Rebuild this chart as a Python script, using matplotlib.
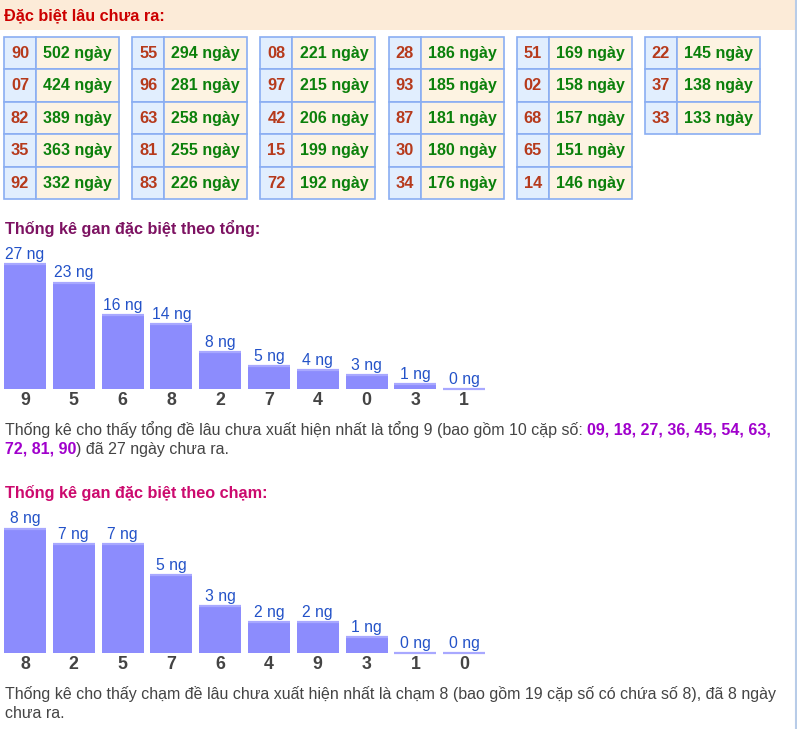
import matplotlib
matplotlib.use("Agg")
import matplotlib.pyplot as plt
from matplotlib.patches import Rectangle

plt.rcParams['font.family'] = ['Liberation Sans', 'DejaVu Sans']

# data: "Đặc biệt lâu chưa ra" tables (5 rows per table)
pairs = ["90", "07", "82", "35", "92",
         "55", "96", "63", "81", "83",
         "08", "97", "42", "15", "72",
         "28", "93", "87", "30", "34",
         "51", "02", "68", "65", "14",
         "22", "37", "33"]
days = [502, 424, 389, 363, 332,
        294, 281, 258, 255, 226,
        221, 215, 206, 199, 192,
        186, 185, 181, 180, 176,
        169, 158, 157, 151, 146,
        145, 138, 133]

# bar chart "theo tổng"
tong_labels = ["9", "5", "6", "8", "2", "7", "4", "0", "3", "1"]
tong_vals = [27, 23, 16, 14, 8, 5, 4, 3, 1, 0]

# bar chart "theo chạm"
cham_labels = ["8", "2", "5", "7", "6", "4", "9", "3", "1", "0"]
cham_vals = [8, 7, 7, 5, 3, 2, 2, 1, 0, 0]

W, H = 797, 729
fig = plt.figure(figsize=(W / 100, H / 100), dpi=100)
bg = fig.add_axes([0, 0, 1, 1])
bg.set_xlim(0, W)
bg.set_ylim(H, 0)
bg.axis('off')

# header band + right border
bg.add_patch(Rectangle((0, 0), 795, 30, color='#fcebd8', lw=0))
bg.plot([796, 796], [0, H], color='#b8cce8', lw=1.5)
bg.text(4, 15.5, "Đặc biệt lâu chưa ra:", color='#cc0000', fontsize=11.7,
        fontweight='bold', va='center')

# tables
row_h = 32.5
for k, (p, d) in enumerate(zip(pairs, days)):
    col, row = divmod(k, 5)
    x0 = 4 + col * 128.2
    y0 = 36.5 + row * row_h
    bg.add_patch(Rectangle((x0, y0), 32, row_h, fc='#e1eefe', ec='#8aaef2', lw=1.2))
    bg.add_patch(Rectangle((x0 + 32, y0), 83, row_h, fc='#fdf3e2', ec='#8aaef2', lw=1.2))
    bg.text(x0 + 16, y0 + row_h / 2 + 0.5, p, color='#b63a1c', fontsize=11.8,
            fontweight='bold', ha='center', va='center')
    bg.text(x0 + 32 + 41.5, y0 + row_h / 2 + 0.5, f"{d} ngày", color='#0b800b',
            fontsize=11.5, fontweight='bold', ha='center', va='center')


def seq_text(x, y, parts, size=11.55):
    r = fig.canvas.get_renderer()
    for s, color, weight in parts:
        t = bg.text(x, y, s, color=color, fontsize=size, fontweight=weight,
                    va='center')
        x += t.get_window_extent(renderer=r).width


def bar_chart(vals, labels, bottom_px, top_px):
    ax = fig.add_axes([0.6 / W, 1 - bottom_px / H, 488 / W, (bottom_px - top_px) / H])
    ax.set_xlim(-0.5, 9.5)
    ax.set_ylim(0, max(vals))
    x = range(len(vals))
    ax.bar(x, vals, width=0.86, color='#8c8cfd', lw=0)
    ax.hlines(vals, [i - 0.43 for i in x], [i + 0.43 for i in x],
              color='#a8a8ff', lw=1.6, clip_on=False)
    for i, v in zip(x, vals):
        ax.annotate(f"{v} ng", (i, v), xytext=(0, 1.5), textcoords='offset points',
                    ha='center', va='bottom', color='#2352c8', fontsize=11.3,
                    annotation_clip=False)
    ax.set_xticks(list(x), labels)
    ax.tick_params(axis='x', length=0, pad=2.2, labelsize=12.8, labelcolor='#444444')
    for t in ax.get_xticklabels():
        t.set_fontweight('bold')
    ax.set_yticks([])
    for s in ax.spines.values():
        s.set_visible(False)
    ax.patch.set_alpha(0)
    return ax


bg.text(5, 228, "Thống kê gan đặc biệt theo tổng:", color='#7d1262', fontsize=11.7,
        fontweight='bold', va='center')
bar_chart(tong_vals, tong_labels, 389, 264)

gray = '#444444'
purple = '#a000cc'
seq_text(5, 430, [("Thống kê cho thấy tổng đề lâu chưa xuất hiện nhất là tổng 9 (bao gồm 10 cặp số: ", gray, 'normal'),
                  ("09, 18, 27, 36, 45, 54, 63,", purple, 'bold')])
seq_text(5, 449, [("72, 81, 90", purple, 'bold'),
                  (") đã 27 ngày chưa ra.", gray, 'normal')])

bg.text(5, 493, "Thống kê gan đặc biệt theo chạm:", color='#cc0a6e', fontsize=11.7,
        fontweight='bold', va='center')
bar_chart(cham_vals, cham_labels, 652.7, 528.5)

seq_text(5, 694, [("Thống kê cho thấy chạm đề lâu chưa xuất hiện nhất là chạm 8 (bao gồm 19 cặp số có chứa số 8), đã 8 ngày", gray, 'normal')])
seq_text(5, 713, [("chưa ra.", gray, 'normal')])

fig.savefig("out.png", dpi=100)
